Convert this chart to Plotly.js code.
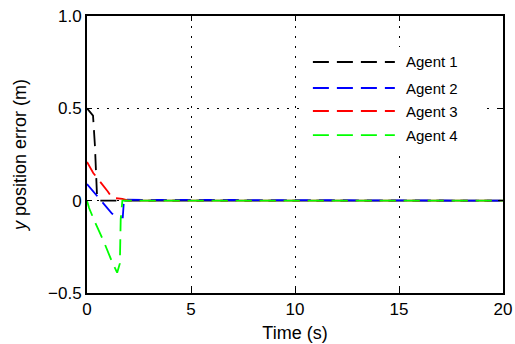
<!DOCTYPE html>
<html><head><meta charset="utf-8">
<script src="https://cdn.plot.ly/plotly-3.0.1.min.js"></script>
<style>html,body{margin:0;padding:0;background:#fff}#plot{width:515px;height:344px}</style>
</head><body><div id="plot"></div>
<script>
const names = ["Agent 1", "Agent 2", "Agent 3", "Agent 4"];
const colors = ["#000000", "#0000ff", "#ff0000", "#00ff00"];
const t1 = [0, 0.29, 0.38, 0.48, 0.6, 20];
const y1 = [0.5, 0.46, 0.3, 0.03, 0, 0];
const t2 = [0, 0.3, 1.2, 1.5, 1.72, 1.78, 1.9, 20];
const y2 = [0.09, 0.05, -0.07, -0.09, -0.09, 0.01, 0.005, 0];
const t3 = [0, 0.3, 1.0, 1.2, 1.7, 2.0, 20];
const y3 = [0.21, 0.15, 0.05, 0.015, 0.01, 0, 0];
const t4 = [0, 0.1, 0.4, 0.8, 1.2, 1.45, 1.58, 1.62, 1.7, 20];
const y4 = [0, -0.04, -0.12, -0.22, -0.33, -0.39, -0.34, -0.1, 0, 0];
const xTicks = [0, 5, 10, 15, 20];
const yTicks = [-0.5, 0, 0.5, 1.0];
const yTickText = ["\u22120.5", "0", "0.5", "1.0"];

const ts = [t1, t2, t3, t4], ys = [y1, y2, y3, y4];
const dash = "16px,8px";
const data = ts.map((t, i) => ({
  x: t, y: ys[i], type: "scatter", mode: "lines", name: names[i],
  line: {color: colors[i], width: 1.8, dash: dash}, showlegend: false
}));

// manual legend (longer line samples) on a borderless white box
const legY = [0.834, 0.740, 0.657, 0.570];
const shapes = [{type: "rect", xref: "paper", yref: "paper", x0: 0.519, x1: 0.945, y0: 0.516, y1: 0.888,
  fillcolor: "#fff", line: {width: 0}, layer: "above"}];
const annotations = [];
names.forEach((n, i) => {
  shapes.push({type: "line", xref: "paper", yref: "paper", x0: 0.543, x1: 0.740, y0: legY[i], y1: legY[i],
    line: {color: colors[i], width: 1.8, dash: dash}, layer: "above"});
  annotations.push({xref: "paper", yref: "paper", x: 0.762, y: legY[i], xanchor: "left", yanchor: "middle",
    text: n, showarrow: false, font: {family: "Liberation Sans, Arial", size: 15, color: "#000"}});
});

const font = {family: "Liberation Sans, Arial", size: 17, color: "#000"};
const layout = {
  width: 515, height: 344,
  margin: {l: 87, r: 12, t: 16, b: 51},
  paper_bgcolor: "#fff", plot_bgcolor: "#fff",
  font: font,
  showlegend: false,
  xaxis: {
    range: [0, 20], tickvals: xTicks, ticktext: xTicks.map(String),
    showline: true, linecolor: "#000", linewidth: 2, mirror: "ticks",
    ticks: "inside", ticklen: 5, tickcolor: "#000",
    showgrid: true, gridcolor: "#000", gridwidth: 1, griddash: "2px,8px",
    zeroline: false, tickfont: font,
    title: {text: "Time (s)", font: {family: "Liberation Sans, Arial", size: 18, color: "#000"}, standoff: 8}
  },
  yaxis: {
    range: [-0.5, 1.0], tickvals: yTicks, ticktext: yTickText,
    showline: true, linecolor: "#000", linewidth: 2, mirror: "ticks",
    ticks: "inside", ticklen: 5, tickcolor: "#000",
    showgrid: true, gridcolor: "#000", gridwidth: 1, griddash: "2px,8px",
    zeroline: false, tickfont: font,
    title: {text: "<i>y</i> position error (m)", font: {family: "Liberation Sans, Arial", size: 18, color: "#000"}, standoff: 17}
  },
  shapes: shapes,
  annotations: annotations
};
Plotly.newPlot("plot", data, layout, {staticPlot: true});
</script>
</body></html>
